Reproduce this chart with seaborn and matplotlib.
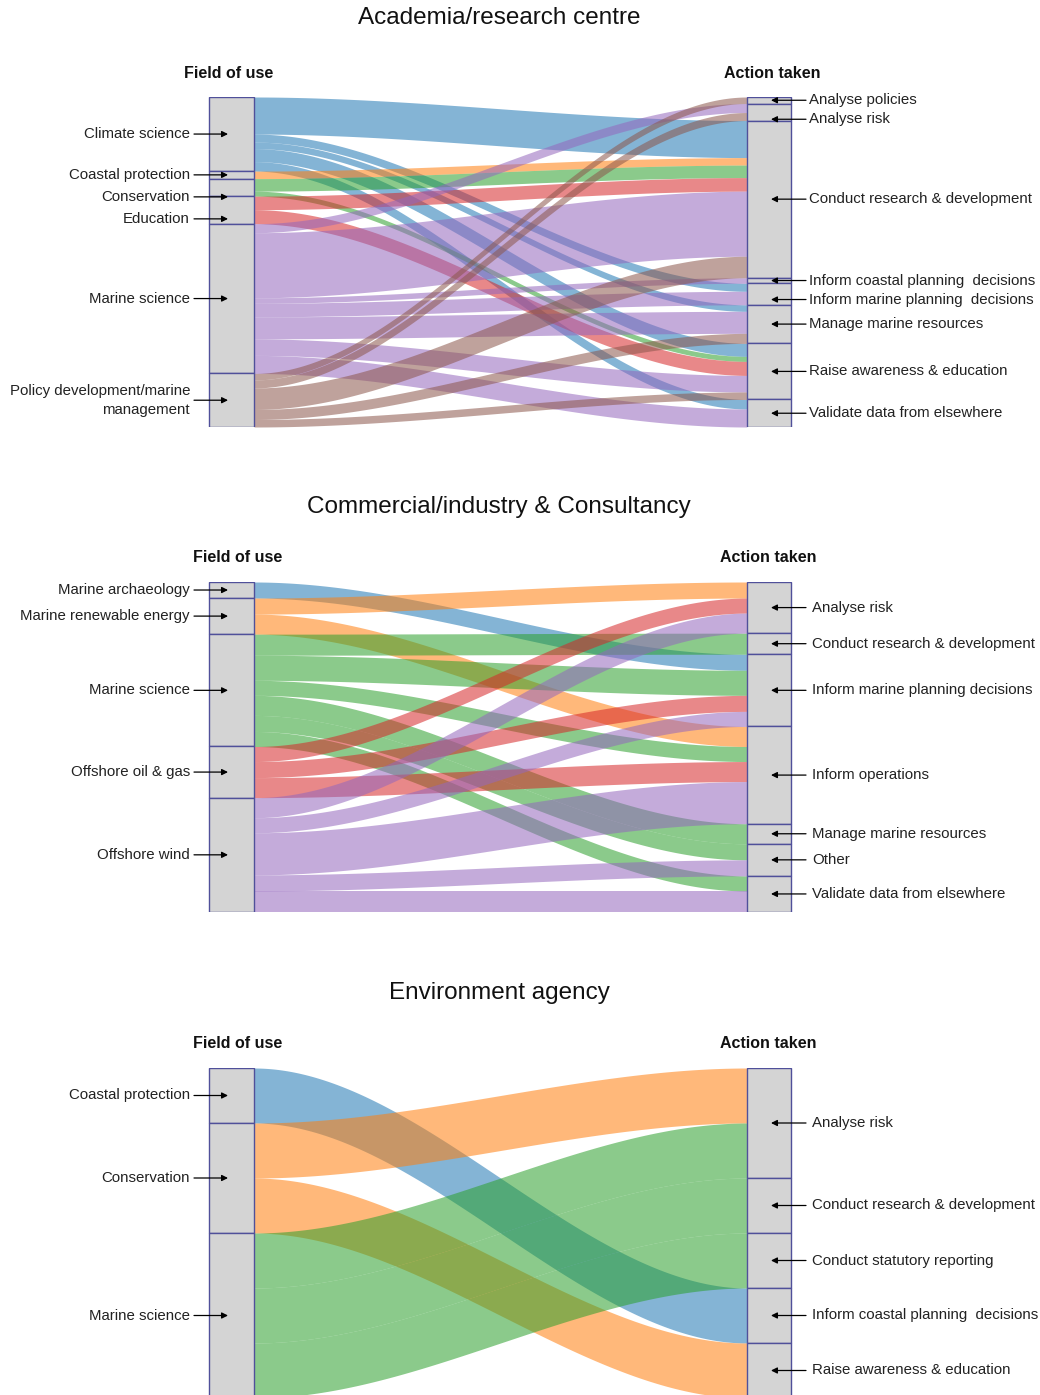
import numpy as np
import matplotlib.pyplot as plt
import seaborn as sns
from matplotlib.patches import Rectangle

sns.set_theme(style='white')
plt.rcParams['font.family'] = ['Liberation Sans', 'DejaVu Sans']

# Academia/research centre
acad_fields = ['Climate science', 'Coastal protection', 'Conservation', 'Education',
               'Marine science', 'Policy development/marine\nmanagement']
acad_actions = ['Analyse policies', 'Analyse risk', 'Conduct research & development',
                'Inform coastal planning  decisions', 'Inform marine planning  decisions',
                'Manage marine resources', 'Raise awareness & education',
                'Validate data from elsewhere']
acad_src = [0, 0, 0, 0, 0, 1, 2, 2, 3, 3, 4, 4, 4, 4, 4, 4, 4, 5, 5, 5, 5, 5]
acad_tgt = [2, 4, 5, 6, 7, 2, 2, 6, 2, 6, 1, 2, 3, 4, 5, 6, 7, 0, 1, 2, 5, 6]
acad_val = [37, 8, 6.5, 13, 9.5, 7.5, 12.5, 5, 13.5, 14, 9, 65, 5.5, 13.5, 22, 16.5, 18,
            6.5, 8, 21.5, 10, 7.5]

# Commercial/industry & Consultancy
comm_fields = ['Marine archaeology', 'Marine renewable energy', 'Marine science',
               'Offshore oil & gas', 'Offshore wind']
comm_actions = ['Analyse risk', 'Conduct research & development',
                'Inform marine planning decisions', 'Inform operations',
                'Manage marine resources', 'Other', 'Validate data from elsewhere']
comm_src = [0, 1, 1, 2, 2, 2, 2, 2, 2, 3, 3, 3, 4, 4, 4, 4, 4]
comm_tgt = [2, 0, 3, 1, 2, 3, 4, 5, 6, 0, 2, 3, 0, 2, 3, 5, 6]
comm_val = [16, 16, 20, 21, 25, 15, 20, 16, 15, 15, 16, 20, 20, 15, 42, 16, 21]

# Environment agency
env_fields = ['Coastal protection', 'Conservation', 'Marine science']
env_actions = ['Analyse risk', 'Conduct research & development', 'Conduct statutory reporting',
               'Inform coastal planning  decisions', 'Raise awareness & education']
env_src = [0, 1, 1, 2, 2, 2]
env_tgt = [3, 0, 4, 0, 1, 2]
env_val = [1, 1, 1, 1, 1, 1]

panels = [
    ('Academia/research centre', acad_fields, acad_actions, acad_src, acad_tgt, acad_val),
    ('Commercial/industry & Consultancy', comm_fields, comm_actions, comm_src, comm_tgt, comm_val),
    ('Environment agency', env_fields, env_actions, env_src, env_tgt, env_val),
]

W, H = 1040, 1395
fig = plt.figure(figsize=(W / 100, H / 100), dpi=100)
pal = sns.color_palette('tab10')

# layout (pixels)
tops = [97, 582, 1068]
title_y = [18, 507, 993]
head_y = [73, 557, 1043]
head_lx = [229, 238, 238]
head_rx = [772, 768, 768]
right_tx = [809, 812, 812]
panel_h = 330
lx0, lx1 = 209, 254
rx0, rx1 = 747, 791
edge = '#50509a'
fs = 10.8


def spread(centers, gap):
    # push labels down so they don't overlap
    out = list(centers)
    for i in range(1, len(out)):
        out[i] = max(out[i], out[i - 1] + gap)
    return out


xs = np.linspace(lx1, rx0, 300)
u = (xs - lx1) / (rx0 - lx1)
s = 3 * u ** 2 - 2 * u ** 3

for i, (title, fields, actions, src, tgt, val) in enumerate(panels):
    src = np.array(src)
    tgt = np.array(tgt)
    val = np.array(val, dtype=float)
    total = val.sum()
    unit = total / panel_h

    ax = fig.add_axes([0, 1 - (tops[i] + panel_h) / H, 1, panel_h / H])
    ax.set_xlim(0, W)
    ax.set_ylim(total, 0)
    ax.axis('off')
    ax.patch.set_alpha(0)

    lsize = np.array([val[src == k].sum() for k in range(len(fields))])
    rsize = np.array([val[tgt == k].sum() for k in range(len(actions))])
    lstart = np.concatenate([[0], np.cumsum(lsize)[:-1]])
    rstart = np.concatenate([[0], np.cumsum(rsize)[:-1]])

    # stack links: left side ordered by target, right side by source
    lpos, rpos = {}, {}
    cur = lstart.copy()
    for j in np.lexsort((tgt, src)):
        lpos[j] = cur[src[j]]
        cur[src[j]] += val[j]
    cur = rstart.copy()
    for j in np.lexsort((src, tgt)):
        rpos[j] = cur[tgt[j]]
        cur[tgt[j]] += val[j]

    for j in range(len(val)):
        top = lpos[j] + (rpos[j] - lpos[j]) * s
        ax.fill_between(xs, top, top + val[j], color=pal[src[j]], alpha=0.55, lw=0, zorder=1)

    for k in range(len(fields)):
        ax.add_patch(Rectangle((lx0, lstart[k]), lx1 - lx0, lsize[k],
                               fc='#d4d4d4', ec=edge, lw=1, zorder=2))
    for k in range(len(actions)):
        ax.add_patch(Rectangle((rx0, rstart[k]), rx1 - rx0, rsize[k],
                               fc='#d4d4d4', ec=edge, lw=1, zorder=2))

    arrow = dict(arrowstyle='-|>', color='black', lw=0.9, mutation_scale=9,
                 shrinkA=0, shrinkB=0)
    lc = spread(lstart + lsize / 2, 22 * unit)
    for k, name in enumerate(fields):
        ax.annotate('', xy=(228, lc[k]), xytext=(194, lc[k]), arrowprops=arrow, zorder=3)
        ax.text(190, lc[k], name, ha='right', va='center', fontsize=fs,
                linespacing=1.45, color='#222222')
    rc = spread(rstart + rsize / 2, 19 * unit)
    for k, name in enumerate(actions):
        ax.annotate('', xy=(771, rc[k]), xytext=(806, rc[k]), arrowprops=arrow, zorder=3)
        ax.text(right_tx[i], rc[k], name, ha='left', va='center', fontsize=fs, color='#222222')

    fig.text(499 / W, 1 - title_y[i] / H, title, ha='center', va='center',
             fontsize=17.5, color='#111111')
    fig.text(head_lx[i] / W, 1 - head_y[i] / H, 'Field of use', ha='center', va='center',
             fontsize=11.5, weight='bold', color='#111111')
    fig.text(head_rx[i] / W, 1 - head_y[i] / H, 'Action taken', ha='center', va='center',
             fontsize=11.5, weight='bold', color='#111111')

fig.savefig('out.png', dpi=100)
